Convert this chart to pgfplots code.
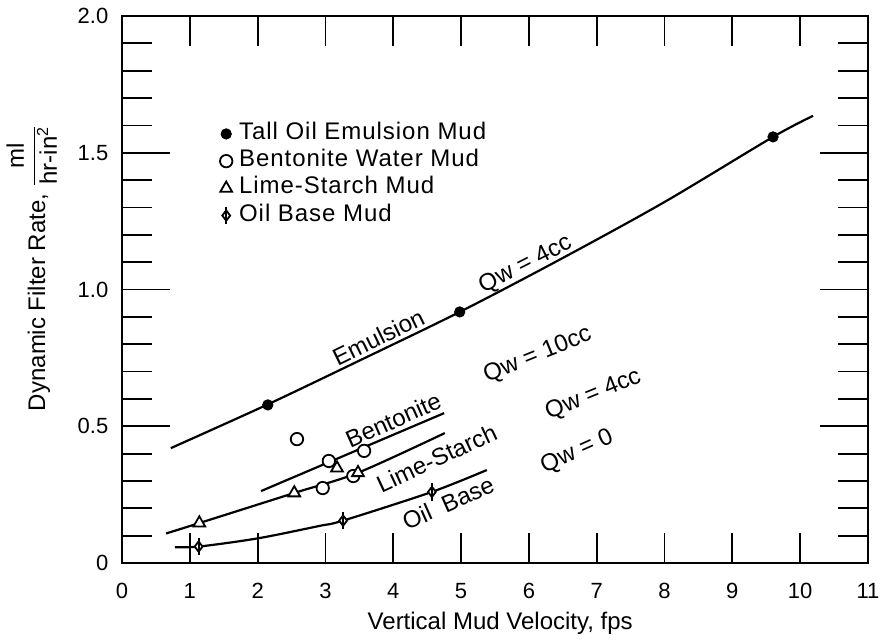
\documentclass[border=0pt]{standalone}
\usepackage{fontspec}
\setmainfont{Liberation Sans}
\newfontfamily\legfont[LetterSpace=4]{Liberation Sans}
\usepackage{pgfplots}
\pgfplotsset{compat=1.18}

% diamond with a vertical stroke through it (oil base mud)
\pgfdeclareplotmark{oilmark}{%
  \pgfpathmoveto{\pgfqpoint{0pt}{\pgfplotmarksize}}%
  \pgfpathlineto{\pgfqpoint{0.75\pgfplotmarksize}{0pt}}%
  \pgfpathlineto{\pgfqpoint{0pt}{-\pgfplotmarksize}}%
  \pgfpathlineto{\pgfqpoint{-0.75\pgfplotmarksize}{0pt}}%
  \pgfpathclose
  \pgfusepathqfillstroke
  \pgfpathmoveto{\pgfqpoint{0pt}{1.7\pgfplotmarksize}}%
  \pgfpathlineto{\pgfqpoint{0pt}{-1.7\pgfplotmarksize}}%
  \pgfusepathqstroke
}

\newcommand{\txt}{\fontsize{12}{14}\selectfont}
\newcommand{\tck}{\fontsize{11}{13}\selectfont}

\begin{document}
\begin{tikzpicture}
\useasboundingbox (-61pt,-38pt) rectangle (379pt,281.5pt);
\begin{axis}[
  at={(0,0)}, anchor=south west,
  scale only axis, width=373pt, height=273.5pt,
  xmin=0, xmax=11, ymin=0, ymax=2,
  xtick={0,...,11},
  minor xtick={1,...,10},
  ytick={0,0.5,1,1.5,2},
  yticklabels={0,0.5,1.0,1.5,2.0},
  minor ytick={0.1,0.2,0.3,0.4,0.6,0.7,0.8,0.9,1.1,1.2,1.3,1.4,1.6,1.7,1.8,1.9},
  tick pos=both, ticklabel pos=left,
  tick align=inside,
  major tick length=24pt, minor tick length=15pt,
  every tick/.style={black, line width=0.9pt},
  major x tick style={draw=none},
  axis line style={line width=1pt},
  /pgf/number format/assume math mode=true,
  xticklabel style={font=\tck, yshift=-6.5pt},
  yticklabel style={font=\tck, xshift=-3.3pt},
  xlabel={Vertical Mud Velocity, fps},
  ylabel={Dynamic Filter Rate, \raisebox{2.5pt}{$\displaystyle\frac{\mbox{ml}}{\mbox{hr-in\textsuperscript{2}}}$}},
  xlabel style={font=\txt, at={(axis description cs:0.507,0)}, anchor=center, yshift=-30pt},
  ylabel style={font=\txt, at={(axis description cs:-0.121,0.54)}, anchor=center},
  legend image code/.code={%
    \draw[mark repeat=2,mark phase=2,#1] plot coordinates {(0pt,0pt)(5pt,0pt)(10pt,0pt)};
    \path (0pt,0pt) (10pt,0pt);},
  legend cell align=left,
  legend style={draw=none, fill=none, font=\txt\legfont,
    at={(axis cs:1.37,1.62)}, anchor=north west,
    row sep=0pt, inner sep=0pt,
    nodes={inner sep=1pt, text height=8.6pt, text depth=3pt}},
]

% fitted curves
\addplot[line width=1.1pt, smooth, forget plot] coordinates {
  (0.72,0.42) (2.15,0.58) (3.5,0.74) (4.98,0.918) (6.46,1.11) (8.0,1.32) (9.6,1.558) (10.19,1.635)};
\addplot[line width=1.1pt, forget plot] coordinates {(2.05,0.263) (4.75,0.548)};
\addplot[line width=1.1pt, smooth, forget plot] coordinates {
  (0.65,0.108) (1.14,0.146) (2.54,0.256) (3.48,0.33) (4.76,0.475)};
\addplot[line width=1.1pt, smooth, forget plot] coordinates {
  (0.78,0.058) (1.13,0.06) (2.0,0.09) (2.9,0.135) (3.26,0.155) (4.57,0.26) (5.38,0.34)};

% measured points
\addplot[only marks, mark=*, mark size=2.6pt, black] coordinates {
  (2.15,0.578) (4.98,0.918) (9.6,1.558)};
\addlegendentry{Tall Oil Emulsion Mud}
\addplot[only marks, mark=*, mark size=3.1pt, black, line width=0.9pt, fill=white] coordinates {
  (2.58,0.453) (3.05,0.373) (3.57,0.41) (2.96,0.274) (3.41,0.318)};
\addlegendentry{Bentonite Water Mud}
\addplot[only marks, mark=triangle*, mark size=3.4pt, black, line width=0.9pt, fill=white] coordinates {
  (1.14,0.146) (2.54,0.256) (3.17,0.347) (3.48,0.33)};
\addlegendentry{Lime-Starch Mud}
\addplot[only marks, mark=oilmark, mark size=2.6pt, black, line width=0.9pt, fill=white] coordinates {
  (1.13,0.06) (3.26,0.155) (4.57,0.26)};
\addlegendentry{Oil Base Mud}

% curve annotations
\begin{scope}[every node/.style={font=\txt}]
\node[rotate=26] at (axis cs:3.78,0.826) {Emulsion};
\node[rotate=27] at (axis cs:5.95,1.09) {Qw = 4cc};
\node[rotate=22] at (axis cs:6.13,0.76) {Qw = 10cc};
\node[rotate=22] at (axis cs:6.95,0.614) {Qw = 4cc};
\node[rotate=24] at (axis cs:6.71,0.406) {Qw = 0};
\node[rotate=24] at (axis cs:4.0,0.523) {Bentonite};
\node[rotate=25] at (axis cs:4.64,0.384) {Lime-Starch};
\node[rotate=24] at (axis cs:4.81,0.219) {Oil\ \ Base};
\end{scope}
\end{axis}
\end{tikzpicture}
\end{document}
